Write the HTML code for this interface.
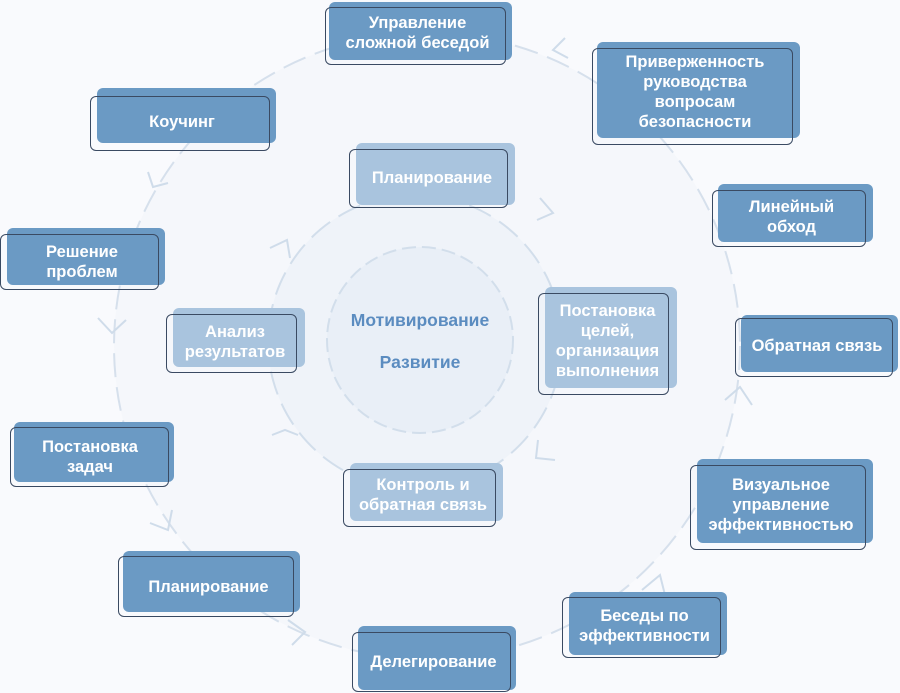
<!DOCTYPE html>
<html><head><meta charset="utf-8"><style>
body{margin:0;width:900px;height:692px;background:#f9fafd;position:relative;overflow:hidden;font-family:"Liberation Sans",sans-serif}
.f{position:absolute;border-radius:6px;background:#6b9ac4}
.l{background:#a9c4de}
.o{position:absolute;border:1.5px solid #3a4a62;border-radius:6px;box-sizing:border-box}
.t{position:absolute;display:flex;align-items:center;justify-content:center;text-align:center;color:#fff;font-weight:bold;font-size:16.5px;line-height:20px}
svg{position:absolute;left:0;top:0}
</style></head><body>
<svg width="900" height="692">
<circle cx="427" cy="346" r="313" fill="#f5f7fb" stroke="#d6e0ec" stroke-width="2" stroke-dasharray="24 10"/>
<circle cx="415" cy="342" r="147" fill="#eff3f9" stroke="#d2deeb" stroke-width="2" stroke-dasharray="24 10"/>
<circle cx="420" cy="340" r="93" fill="#e9eff7" stroke="#d2deeb" stroke-width="2" stroke-dasharray="14 6"/>
<g fill="none" stroke="#cfdcea" stroke-width="2">
<polyline points="565,38 553,50 568,58"/>
<polyline points="148,172 153,187 168,183"/>
<polyline points="98,318 112,333 126,320"/>
<polyline points="150,523 168,530 172,510"/>
<polyline points="288,620 305,632 292,645"/>
<polyline points="642,590 660,575 665,595"/>
<polyline points="725,400 740,387 752,405"/>
<polyline points="540,198 553,213 537,220"/>
<polyline points="538,440 536,458 555,460"/>
<polyline points="272,435 285,430 298,435"/>
<polyline points="270,248 287,240 290,258"/>
</g>
</svg>
<div class="f" style="left:329px;top:2px;width:183px;height:58px"></div><div class="o" style="left:325px;top:7px;width:181px;height:58px"></div><div class="t" style="left:325px;top:2px;width:185px;height:62px">Управление<br>сложной беседой</div>
<div class="f" style="left:597px;top:42px;width:203px;height:96px"></div><div class="o" style="left:592px;top:48px;width:201px;height:97px"></div><div class="t" style="left:595px;top:44px;width:200px;height:96px">Приверженность<br>руководства<br>вопросам<br>безопасности</div>
<div class="f" style="left:97px;top:88px;width:179px;height:55px"></div><div class="o" style="left:90px;top:96px;width:180px;height:55px"></div><div class="t" style="left:92px;top:94px;width:180px;height:55px">Коучинг</div>
<div class="f" style="left:718px;top:184px;width:155px;height:58px"></div><div class="o" style="left:712px;top:190px;width:154px;height:57px"></div><div class="t" style="left:714px;top:188px;width:155px;height:58px">Линейный<br>обход</div>
<div class="f" style="left:7px;top:228px;width:158px;height:57px"></div><div class="o" style="left:0px;top:234px;width:159px;height:56px"></div><div class="t" style="left:2px;top:233px;width:160px;height:57px">Решение<br>проблем</div>
<div class="f" style="left:741px;top:315px;width:157px;height:57px"></div><div class="o" style="left:735px;top:318px;width:158px;height:59px"></div><div class="t" style="left:738px;top:317px;width:158px;height:58px">Обратная связь</div>
<div class="f" style="left:14px;top:422px;width:160px;height:60px"></div><div class="o" style="left:10px;top:427px;width:159px;height:60px"></div><div class="t" style="left:10px;top:427px;width:160px;height:60px">Постановка<br>задач</div>
<div class="f" style="left:697px;top:459px;width:176px;height:84px"></div><div class="o" style="left:690px;top:465px;width:176px;height:85px"></div><div class="t" style="left:693px;top:463px;width:176px;height:84px">Визуальное<br>управление<br>эффективностью</div>
<div class="f" style="left:123px;top:551px;width:177px;height:61px"></div><div class="o" style="left:118px;top:556px;width:176px;height:61px"></div><div class="t" style="left:120px;top:556px;width:177px;height:61px">Планирование</div>
<div class="f" style="left:569px;top:592px;width:158px;height:63px"></div><div class="o" style="left:562px;top:597px;width:159px;height:61px"></div><div class="t" style="left:565px;top:595px;width:159px;height:62px">Беседы по<br>эффективности</div>
<div class="f" style="left:358px;top:626px;width:158px;height:64px"></div><div class="o" style="left:352px;top:632px;width:159px;height:60px"></div><div class="t" style="left:354px;top:630px;width:159px;height:63px">Делегирование</div>
<div class="f l" style="left:356px;top:143px;width:159px;height:62px"></div><div class="o" style="left:349px;top:149px;width:159px;height:59px"></div><div class="t" style="left:352px;top:147px;width:160px;height:62px">Планирование</div>
<div class="f l" style="left:173px;top:308px;width:132px;height:59px"></div><div class="o" style="left:166px;top:314px;width:131px;height:59px"></div><div class="t" style="left:168px;top:312px;width:134px;height:60px">Анализ<br>результатов</div>
<div class="f l" style="left:545px;top:287px;width:132px;height:101px"></div><div class="o" style="left:538px;top:293px;width:131px;height:102px"></div><div class="t" style="left:541px;top:290px;width:133px;height:101px">Постановка<br>целей,<br>организация<br>выполнения</div>
<div class="f l" style="left:350px;top:463px;width:153px;height:58px"></div><div class="o" style="left:343px;top:469px;width:153px;height:58px"></div><div class="t" style="left:346px;top:466px;width:154px;height:58px">Контроль и<br>обратная связь</div>
<div class="t" style="left:320px;top:305px;width:200px;height:30px;color:#5b8cc0;font-size:17.5px">Мотивирование</div>
<div class="t" style="left:320px;top:347px;width:200px;height:30px;color:#5b8cc0;font-size:17.5px">Развитие</div>
</body></html>
